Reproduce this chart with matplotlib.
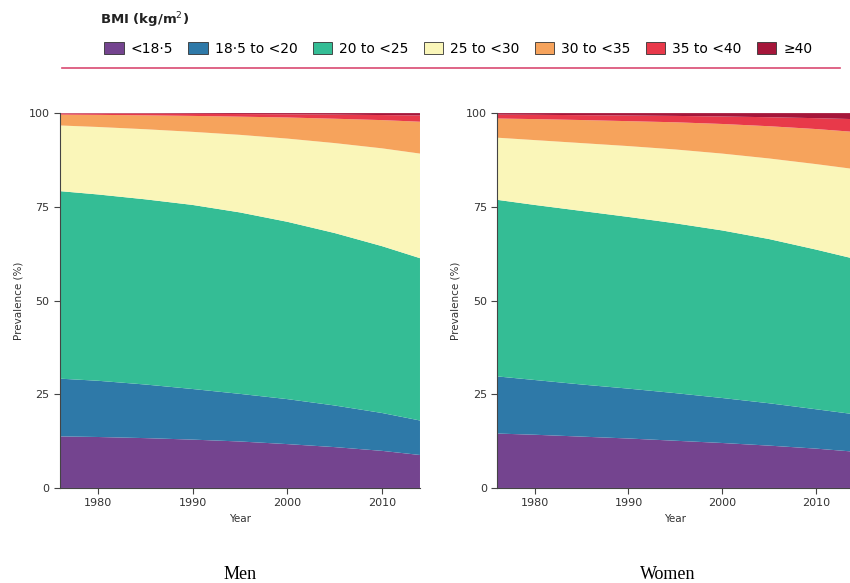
import numpy as np
import matplotlib.pyplot as plt
from matplotlib.patches import Patch
from matplotlib.lines import Line2D

years = [1975, 1980, 1985, 1990, 1995, 2000, 2005, 2010, 2014]
categories = ['<18·5', '18·5 to <20', '20 to <25', '25 to <30', '30 to <35', '35 to <40', '≥40']
colors = ['#74448f', '#2e79a8', '#34bd95', '#faf6b9', '#f6a35c', '#e8394a', '#a5163a']

# prevalence (%) per BMI category, men
men_under = [13.8, 13.6, 13.3, 12.9, 12.4, 11.7, 10.9, 9.9, 8.8]
men_185_20 = [15.5, 15.0, 14.3, 13.5, 12.7, 12.0, 11.1, 10.1, 9.2]
men_20_25 = [50.1, 49.7, 49.4, 49.1, 48.4, 47.3, 46.0, 44.5, 43.3]
men_25_30 = [17.4, 18.0, 18.7, 19.5, 20.7, 22.2, 24.0, 26.1, 27.9]
men_30_35 = [2.8, 3.23, 3.7, 4.25, 4.85, 5.63, 6.5, 7.53, 8.5]
men_35_40 = [0.3, 0.35, 0.45, 0.55, 0.7, 0.85, 1.1, 1.35, 1.66]
men_40 = [0.1, 0.12, 0.15, 0.2, 0.25, 0.32, 0.4, 0.52, 0.64]

# women
women_under = [14.6, 14.2, 13.7, 13.2, 12.6, 12.0, 11.3, 10.5, 9.7]
women_185_20 = [15.4, 14.6, 13.9, 13.3, 12.7, 12.0, 11.3, 10.5, 10.0]
women_20_25 = [47.2, 46.7, 46.3, 45.8, 45.3, 44.7, 43.8, 42.6, 41.5]
women_25_30 = [16.4, 17.3, 18.1, 18.9, 19.7, 20.5, 21.5, 22.8, 23.9]
women_30_35 = [5.0, 5.6, 6.15, 6.65, 7.25, 7.9, 8.6, 9.35, 9.9]
women_35_40 = [1.0, 1.15, 1.3, 1.5, 1.7, 2.0, 2.4, 2.9, 3.4]
women_40 = [0.4, 0.45, 0.55, 0.65, 0.75, 0.9, 1.1, 1.35, 1.6]

men = [men_under, men_185_20, men_20_25, men_25_30, men_30_35, men_35_40, men_40]
women = [women_under, women_185_20, women_20_25, women_25_30, women_30_35, women_35_40, women_40]

plt.rcParams['font.family'] = ['DejaVu Sans']

fig = plt.figure(figsize=(8.5, 5.83), dpi=100)
ax1 = fig.add_axes([0.0706, 0.163, 0.4235, 0.643])
ax2 = fig.add_axes([0.585, 0.163, 0.419, 0.643])

for ax, data, name, cx in [(ax1, men, 'Men', 0.283), (ax2, women, 'Women', 0.786)]:
    ax.stackplot(years, *data, colors=colors, linewidth=0)
    ax.set_xlim(1976, 2014)
    ax.set_ylim(0, 100)
    ax.set_yticks([0, 25, 50, 75, 100])
    ax.set_xticks([1980, 1990, 2000, 2010])
    ax.tick_params(labelsize=8, length=4, width=0.8, color='#444444', labelcolor='#333333')
    ax.set_xlabel('Year', fontsize=7.5, color='#333333')
    ax.set_ylabel('Prevalence (%)', fontsize=7.5, color='#333333')
    for s in ['top', 'right']:
        ax.spines[s].set_visible(False)
    for s in ['left', 'bottom']:
        ax.spines[s].set_color('#444444')
        ax.spines[s].set_linewidth(0.8)
    fig.text(cx, 0.0, name, ha='center', va='bottom', fontsize=13,
             family=['Liberation Serif', 'DejaVu Serif'])

fig.text(0.118, 0.948, 'BMI (kg/m$^2$)', fontsize=9.5, fontweight='bold',
         ha='left', va='bottom', color='#222222')
handles = [Patch(facecolor=c, edgecolor='#333333', linewidth=0.6) for c in colors]
fig.legend(handles, categories, loc='upper left', bbox_to_anchor=(0.108, 0.95),
           ncol=7, frameon=False, fontsize=10, handlelength=1.4, handleheight=1.0,
           handletextpad=0.5, columnspacing=1.1)
fig.add_artist(Line2D([0.073, 0.988], [0.883, 0.883], color='#d94a72', linewidth=1.2))

fig.savefig('out.png', dpi=100)
